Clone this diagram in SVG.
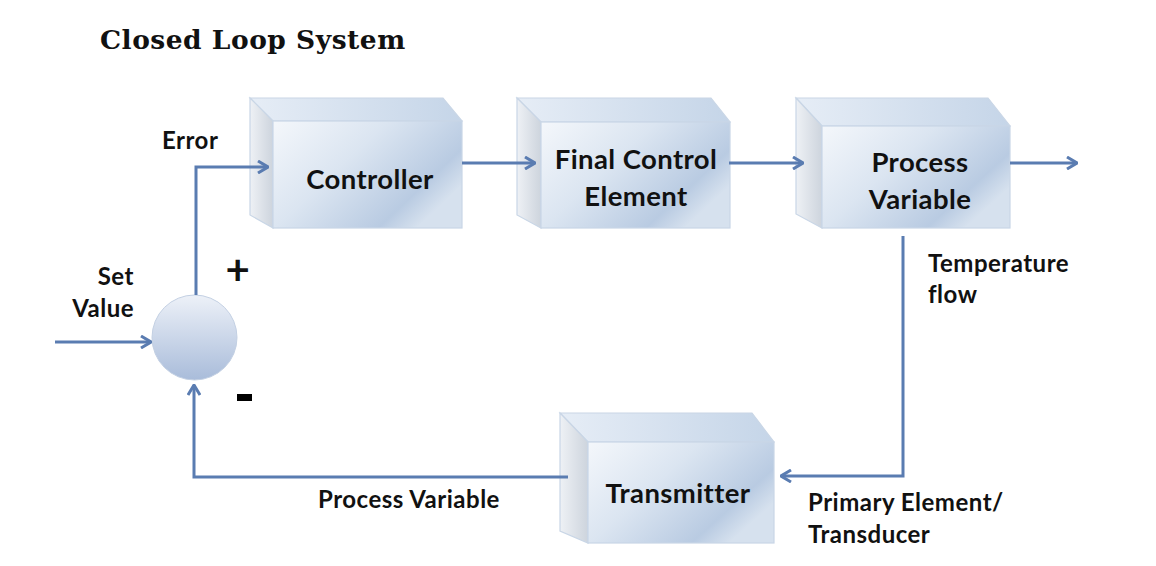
<svg xmlns="http://www.w3.org/2000/svg" width="1156" height="566" viewBox="0 0 1156 566">
  <defs>
    <style>
      .lbl { font-family: Lato, "Open Sans", "Liberation Sans", sans-serif; font-weight: bold; font-size: 24px; letter-spacing: 0.5px; fill: #111; }
      .box-text { font-family: Lato, "Open Sans", "Liberation Sans", sans-serif; font-weight: bold; font-size: 27.5px; letter-spacing: 0.4px; fill: #111; text-anchor: middle; }
      .title { font-family: "DejaVu Serif", "Liberation Serif", serif; font-weight: bold; font-size: 26.5px; letter-spacing: 0.5px; fill: #111; }
      .wire { fill: none; stroke: #5a7cb1; stroke-width: 3; stroke-linejoin: miter; }
      .front { fill: url(#gFront); stroke: #c9d6e6; stroke-width: 1.2; }
      .top { fill: url(#gTop); stroke: #c9d6e6; stroke-width: 1.2; }
      .side { fill: url(#gSide); stroke: #c9d6e6; stroke-width: 1.2; }
    </style>
    <linearGradient id="gFront" x1="0" y1="0" x2="1" y2="0.6">
      <stop offset="0" stop-color="#f4f7fb"/>
      <stop offset="0.45" stop-color="#dbe5f1"/>
      <stop offset="0.85" stop-color="#b9cbe2"/>
      <stop offset="1" stop-color="#d6e1ee"/>
    </linearGradient>
    <linearGradient id="gTop" x1="0" y1="0" x2="1" y2="0">
      <stop offset="0" stop-color="#e6edf6"/>
      <stop offset="1" stop-color="#c5d5e8"/>
    </linearGradient>
    <linearGradient id="gSide" x1="0" y1="0" x2="1" y2="0">
      <stop offset="0" stop-color="#eef1f5"/>
      <stop offset="1" stop-color="#cdd4dd"/>
    </linearGradient>
    <linearGradient id="gSum" x1="0" y1="0" x2="0" y2="1">
      <stop offset="0" stop-color="#edf1f8"/>
      <stop offset="1" stop-color="#a9bcda"/>
    </linearGradient>
    <marker id="arrow" viewBox="0 0 12 14" refX="11" refY="7" markerWidth="12" markerHeight="14" markerUnits="userSpaceOnUse" orient="auto">
      <path d="M1,1 L11,7 L1,13" fill="none" stroke="#5a7cb1" stroke-width="3" stroke-linejoin="miter"/>
    </marker>
  </defs>

  <rect width="1156" height="566" fill="#ffffff"/>

  <text class="title" x="100" y="49">Closed Loop System</text>

  <!-- summing junction -->
  <g id="sum">
    <circle cx="194.5" cy="337.5" r="42.5" fill="url(#gSum)" stroke="#c3d0e3" stroke-width="1"/>
  </g>

  <g id="controller">
    <polygon class="top" points="250,98 443,98 462,121 273,121"/>
    <polygon class="side" points="250,98 273,121 273,228 250,215"/>
    <rect class="front" x="273" y="121" width="189" height="107"/>
    <text class="box-text" x="370" y="189">Controller</text>
  </g>

  <g id="final-control-element">
    <polygon class="top" points="517,98 711,98 730,122 541,122"/>
    <polygon class="side" points="517,98 541,122 541,228 517,215"/>
    <rect class="front" x="541" y="122" width="189" height="106"/>
    <text class="box-text" x="636" y="169">Final Control</text>
    <text class="box-text" x="636" y="206">Element</text>
  </g>

  <g id="process-variable">
    <polygon class="top" points="796,98 988,98 1010,126 822,126"/>
    <polygon class="side" points="796,98 822,126 822,228 796,214"/>
    <rect class="front" x="822" y="126" width="188" height="102"/>
    <text class="box-text" x="920" y="172">Process</text>
    <text class="box-text" x="920" y="209">Variable</text>
  </g>

  <g id="transmitter">
    <polygon class="top" points="560,413 752,413 774,442 588,442"/>
    <polygon class="side" points="560,413 588,442 588,543 560,531"/>
    <rect class="front" x="588" y="442" width="186" height="101"/>
    <text class="box-text" x="678" y="503">Transmitter</text>
  </g>

  <!-- connectors, drawn over the box sides where they end -->
  <g id="connectors">
    <polyline class="wire" points="196,295 196,167 268,167" marker-end="url(#arrow)"/>
    <line class="wire" x1="462" y1="163" x2="535" y2="163" marker-end="url(#arrow)"/>
    <line class="wire" x1="729" y1="163" x2="803" y2="163" marker-end="url(#arrow)"/>
    <line class="wire" x1="1010" y1="163" x2="1077" y2="163" marker-end="url(#arrow)"/>
    <polyline class="wire" points="903,236 903,476 781,476" marker-end="url(#arrow)"/>
    <polyline class="wire" points="568,477 194,477 194,385" marker-end="url(#arrow)"/>
    <line class="wire" x1="55" y1="342" x2="151" y2="342" marker-end="url(#arrow)"/>
  </g>

  <!-- labels -->
  <g id="labels">
    <text class="lbl" x="162" y="149">Error</text>
    <text class="lbl" x="134" y="285" text-anchor="end">Set</text>
    <text class="lbl" x="134" y="317" text-anchor="end">Value</text>
    <text class="lbl" x="238" y="285" text-anchor="middle" style="font-size:42px">+</text>
    <rect x="237" y="394" width="15" height="7" fill="#000"/>
    <text class="lbl" x="928" y="272">Temperature</text>
    <text class="lbl" x="928" y="303">flow</text>
    <text class="lbl" x="318" y="508">Process Variable</text>
    <text class="lbl" x="808" y="511">Primary Element/</text>
    <text class="lbl" x="808" y="543">Transducer</text>
  </g>
</svg>
